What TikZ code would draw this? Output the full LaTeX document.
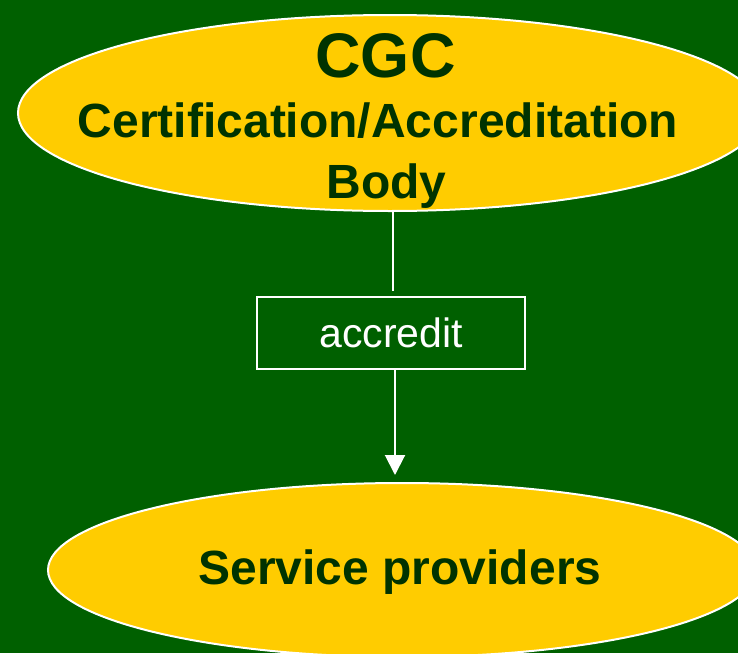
\documentclass[tikz,border=0pt]{standalone}
\usepackage{fontspec}
\setmainfont{Liberation Sans}
\usetikzlibrary{arrows.meta,shapes.geometric}
\definecolor{bggreen}{RGB}{0,96,0}
\definecolor{gold}{RGB}{255,204,0}
\definecolor{darkgreen}{RGB}{0,51,0}
\tikzset{
  oval/.style={ellipse, fill=gold, draw=white, line width=2pt, inner sep=0pt},
  bigtext/.style={text=darkgreen, font=\fontsize{48}{48}\selectfont\bfseries, anchor=base, inner sep=0pt},
  titletext/.style={text=darkgreen, font=\fontsize{63}{63}\selectfont\bfseries, anchor=base, inner sep=0pt},
  labelbox/.style={draw=white, line width=2pt, text=white, font=\fontsize{41}{41}\selectfont, minimum width=268pt, minimum height=72pt, inner sep=0pt},
  conn/.style={draw=white, line width=2pt}
}
\begin{document}
\begin{tikzpicture}[x=1pt,y=-1pt]
\useasboundingbox (0,0) rectangle (738,653);
\fill[bggreen] (0,0) rectangle (738,653);
\begin{scope}
\clip (0,0) rectangle (738,653);
\node[oval, minimum width=744pt, minimum height=196pt] (top) at (390,113) {};
\node[oval, minimum width=708pt, minimum height=174pt] (bot) at (402,570) {};
\end{scope}
\node[titletext] (cgc) at (385.5,77) {CGC};
\node[bigtext] (cert) at (378,137) {Certification/Accreditation};
\node[bigtext] (body) at (386.5,198) {Body};
\node[bigtext] (serv) at (400,584) {Service providers};
\node[labelbox] (acc) at (391,333) {accredit};
\draw[conn, shorten >=5pt] ([xshift=3pt]top.south) -- ([xshift=2pt]acc.north);
\draw[conn, -{Triangle[width=20pt,length=20pt]}, shorten >=7pt] ([xshift=4pt]acc.south) -- ([xshift=-7pt]bot.north);
\end{tikzpicture}
\end{document}
